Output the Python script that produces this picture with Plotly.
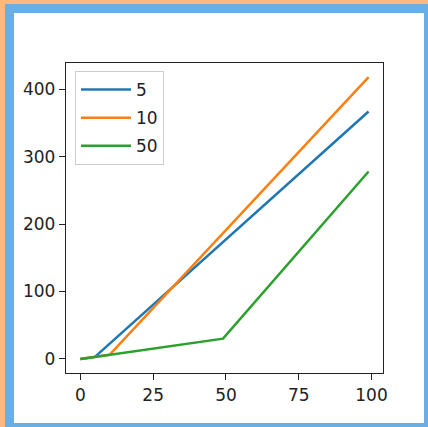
import plotly.graph_objects as go

# Data
series_names = ["5", "10", "50"]
x_5 = [0, 5, 99]
y_5 = [0, 3, 367]
x_10 = [0, 10, 99]
y_10 = [0, 6, 418]
x_50 = [0, 49, 99]
y_50 = [0, 30, 278]
x_ticks = [0, 25, 50, 75, 100]
y_ticks = [0, 100, 200, 300, 400]

colors = ["#1f77b4", "#ff7f0e", "#2ca02c"]

W, H = 428, 427
L, R, T, B = 66, 383, 63, 373  # plot area in pixels

def px(x):
    return (x - L) / (R - L)

def py(y):
    return (B - y) / (B - T)

fig = go.Figure()
for name, xs, ys, c in zip(series_names, [x_5, x_10, x_50], [y_5, y_10, y_50], colors):
    fig.add_trace(go.Scatter(x=xs, y=ys, mode="lines", name=name, legendgroup=name,
                             line=dict(color=c, width=2.5)))

shapes = [
    dict(type="rect", xref="paper", yref="paper", x0=px(0), x1=px(W), y0=py(H), y1=py(0),
         fillcolor="#FFB980", line=dict(width=0), layer="below"),
    dict(type="rect", xref="paper", yref="paper", x0=px(5), x1=px(W), y0=py(H), y1=py(4),
         fillcolor="#6AAEE3", line=dict(width=0), layer="below"),
    dict(type="rect", xref="paper", yref="paper", x0=px(14), x1=px(424), y0=py(423), y1=py(13),
         fillcolor="#FFFFFF", line=dict(width=0), layer="below"),
]

axis_common = dict(showgrid=False, zeroline=False, showline=True, mirror=True,
                   linecolor="#222222", linewidth=1.3, ticks="outside", ticklen=6,
                   tickwidth=1.3, tickcolor="#222222",
                   tickfont=dict(family="DejaVu Sans", size=17, color="#222222"))

fig.update_layout(
    width=W, height=H,
    margin=dict(l=L, r=W - R, t=T, b=H - B),
    paper_bgcolor="white", plot_bgcolor="white",
    shapes=shapes,
    xaxis=dict(range=[-4.95, 103.95], tickvals=x_ticks, **axis_common),
    yaxis=dict(range=[-20.9, 438.9], tickvals=y_ticks, **axis_common),
    legend=dict(x=px(75), y=py(71), xanchor="left", yanchor="top",
                bordercolor="#cccccc", borderwidth=1, bgcolor="white",
                font=dict(family="DejaVu Sans", size=17, color="#222222"),
                itemwidth=50, tracegroupgap=3),
    showlegend=True,
)

fig.write_html("out.html", config={"displayModeBar": False},
               post_script="document.body.style.margin='0';document.body.style.overflow='hidden';")
